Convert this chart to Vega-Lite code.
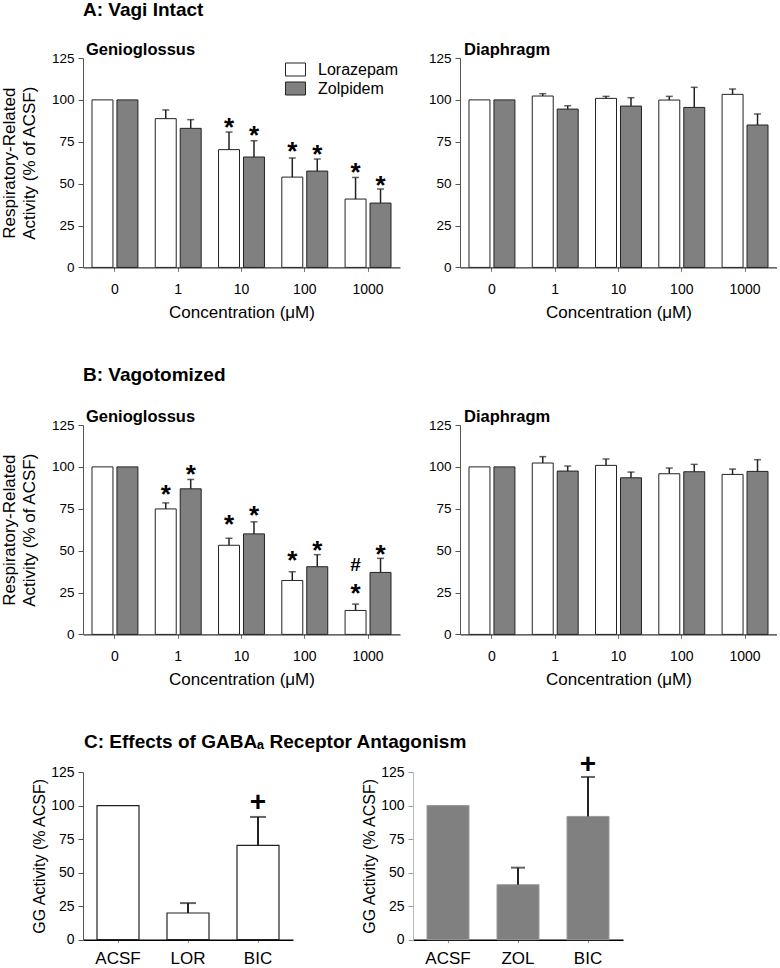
{
  "$schema": "https://vega.github.io/schema/vega-lite/v6.json",
  "padding": {"left": 0, "top": 0, "right": 0, "bottom": 0},
  "config": {
    "view": {"stroke": null},
    "font": "Liberation Sans",
    "axis": {"grid": false, "labelColor": "#000", "titleColor": "#000", "titleFontWeight": "normal", "labelFont": "Liberation Sans", "titleFont": "Liberation Sans"},
    "title": {"font": "Liberation Sans", "color": "#000"}
  },
  "resolve": {"scale": {"fill": "independent"}, "legend": {"fill": "independent"}},
  "datasets": {
    "bars": [
      {"panel":"A_GG","conc":"0","drug":"Lorazepam","mean":100,"err":null,"star":null,"hash":null},
      {"panel":"A_GG","conc":"0","drug":"Zolpidem","mean":100,"err":null,"star":null,"hash":null},
      {"panel":"A_GG","conc":"1","drug":"Lorazepam","mean":88.8,"err":94.0,"star":null,"hash":null},
      {"panel":"A_GG","conc":"1","drug":"Zolpidem","mean":83.0,"err":88.2,"star":null,"hash":null},
      {"panel":"A_GG","conc":"10","drug":"Lorazepam","mean":70.3,"err":80.8,"star":86.2,"hash":null},
      {"panel":"A_GG","conc":"10","drug":"Zolpidem","mean":65.9,"err":75.6,"star":81.6,"hash":null},
      {"panel":"A_GG","conc":"100","drug":"Lorazepam","mean":53.9,"err":65.3,"star":71.7,"hash":null},
      {"panel":"A_GG","conc":"100","drug":"Zolpidem","mean":57.5,"err":64.7,"star":70.3,"hash":null},
      {"panel":"A_GG","conc":"1000","drug":"Lorazepam","mean":40.8,"err":53.7,"star":59.3,"hash":null},
      {"panel":"A_GG","conc":"1000","drug":"Zolpidem","mean":38.4,"err":46.8,"star":51.4,"hash":null},
      {"panel":"A_DIA","conc":"0","drug":"Lorazepam","mean":100,"err":null,"star":null,"hash":null},
      {"panel":"A_DIA","conc":"0","drug":"Zolpidem","mean":100,"err":null,"star":null,"hash":null},
      {"panel":"A_DIA","conc":"1","drug":"Lorazepam","mean":102.3,"err":103.7,"star":null,"hash":null},
      {"panel":"A_DIA","conc":"1","drug":"Zolpidem","mean":94.5,"err":96.5,"star":null,"hash":null},
      {"panel":"A_DIA","conc":"10","drug":"Lorazepam","mean":100.9,"err":102.1,"star":null,"hash":null},
      {"panel":"A_DIA","conc":"10","drug":"Zolpidem","mean":96.3,"err":101.3,"star":null,"hash":null},
      {"panel":"A_DIA","conc":"100","drug":"Lorazepam","mean":99.9,"err":102.1,"star":null,"hash":null},
      {"panel":"A_DIA","conc":"100","drug":"Zolpidem","mean":95.5,"err":107.5,"star":null,"hash":null},
      {"panel":"A_DIA","conc":"1000","drug":"Lorazepam","mean":103.3,"err":106.5,"star":null,"hash":null},
      {"panel":"A_DIA","conc":"1000","drug":"Zolpidem","mean":85.0,"err":91.6,"star":null,"hash":null},
      {"panel":"B_GG","conc":"0","drug":"Lorazepam","mean":100,"err":null,"star":null,"hash":null},
      {"panel":"B_GG","conc":"0","drug":"Zolpidem","mean":100,"err":null,"star":null,"hash":null},
      {"panel":"B_GG","conc":"1","drug":"Lorazepam","mean":74.9,"err":78.5,"star":86.1,"hash":null},
      {"panel":"B_GG","conc":"1","drug":"Zolpidem","mean":86.9,"err":92.5,"star":98.1,"hash":null},
      {"panel":"B_GG","conc":"10","drug":"Lorazepam","mean":53.2,"err":57.4,"star":68.2,"hash":null},
      {"panel":"B_GG","conc":"10","drug":"Zolpidem","mean":60.0,"err":67.2,"star":73.6,"hash":null},
      {"panel":"B_GG","conc":"100","drug":"Lorazepam","mean":32.2,"err":37.4,"star":47.0,"hash":null},
      {"panel":"B_GG","conc":"100","drug":"Zolpidem","mean":40.4,"err":47.6,"star":53.0,"hash":null},
      {"panel":"B_GG","conc":"1000","drug":"Lorazepam","mean":14.3,"err":18.1,"star":27.0,"hash":42.0},
      {"panel":"B_GG","conc":"1000","drug":"Zolpidem","mean":37.0,"err":45.4,"star":50.6,"hash":null},
      {"panel":"B_DIA","conc":"0","drug":"Lorazepam","mean":100,"err":null,"star":null,"hash":null},
      {"panel":"B_DIA","conc":"0","drug":"Zolpidem","mean":100,"err":null,"star":null,"hash":null},
      {"panel":"B_DIA","conc":"1","drug":"Lorazepam","mean":102.3,"err":106.1,"star":null,"hash":null},
      {"panel":"B_DIA","conc":"1","drug":"Zolpidem","mean":97.5,"err":100.5,"star":null,"hash":null},
      {"panel":"B_DIA","conc":"10","drug":"Lorazepam","mean":100.9,"err":104.7,"star":null,"hash":null},
      {"panel":"B_DIA","conc":"10","drug":"Zolpidem","mean":93.5,"err":96.9,"star":null,"hash":null},
      {"panel":"B_DIA","conc":"100","drug":"Lorazepam","mean":95.9,"err":99.3,"star":null,"hash":null},
      {"panel":"B_DIA","conc":"100","drug":"Zolpidem","mean":97.1,"err":101.5,"star":null,"hash":null},
      {"panel":"B_DIA","conc":"1000","drug":"Lorazepam","mean":95.5,"err":98.7,"star":null,"hash":null},
      {"panel":"B_DIA","conc":"1000","drug":"Zolpidem","mean":97.3,"err":104.3,"star":null,"hash":null}
    ],
    "gaba": [
      {"side":"LOR","group":"ACSF","mean":100,"err":null,"plus":null},
      {"side":"LOR","group":"LOR","mean":19.9,"err":27.3,"plus":null},
      {"side":"LOR","group":"BIC","mean":70.3,"err":91.5,"plus":102.4},
      {"side":"ZOL","group":"ACSF","mean":100,"err":null,"plus":null},
      {"side":"ZOL","group":"ZOL","mean":41.0,"err":53.7,"plus":null},
      {"side":"ZOL","group":"BIC","mean":91.9,"err":121.3,"plus":131}
    ]
  },
  "spacing": 44,
  "vconcat": [
    {
      "title": {"text": "A: Vagi Intact", "anchor": "start", "frame": "group", "fontSize": 19, "fontWeight": "bold", "dx": 0, "offset": 22},
      "spacing": 28,
      "resolve": {"scale": {"fill": "independent"}, "legend": {"fill": "independent"}},
      "hconcat": [
        {
          "width": 317, "height": 209.4,
          "title": {"text": "Genioglossus", "anchor": "start", "frame": "group", "fontSize": 16.5, "fontWeight": "bold", "dx": 3, "offset": -7},
          "data": {"name": "bars"},
          "transform": [{"filter": "datum.panel === 'A_GG'"}],
          "encoding": {
            "x": {"field": "conc", "type": "nominal", "sort": ["0","1","10","100","1000"], "scale": {"paddingInner": 0.274, "paddingOuter": 0.142},
                  "axis": {"title": "Concentration (μM)", "labelAngle": 0, "labelFontSize": 14, "tickSize": 4, "tickColor": "#777", "labelPadding": 11, "titleFontSize": 17, "titlePadding": 8, "domainColor": "#000"}},
            "xOffset": {"field": "drug", "type": "nominal", "sort": ["Lorazepam","Zolpidem"], "scale": {"paddingInner": 0.16, "paddingOuter": 0}}
          },
          "layer": [
            {"mark": {"type": "bar", "stroke": "#222", "strokeWidth": 1},
             "encoding": {
               "y": {"field": "mean", "type": "quantitative", "scale": {"domain": [0,125], "nice": false},
                     "axis": {"values": [0,25,50,75,100,125], "labelFontSize": 13.5, "tickSize": 5, "labelPadding": 4, "domainColor": "#555", "tickColor": "#555", "title": ["Respiratory-Related", "Activity (% of ACSF)"], "titleFontSize": 17, "titleLineHeight": 19.5, "titlePadding": 13}},
               "fill": {"field": "drug", "type": "nominal", "scale": {"domain": ["Lorazepam","Zolpidem"], "range": ["#ffffff","#808080"]},
                        "legend": {"orient": "top-right", "offset": 1, "title": null, "symbolType": "M-1,-0.65H1V0.65H-1Z", "symbolSize": 400, "symbolStrokeColor": "#222", "symbolStrokeWidth": 1, "labelFontSize": 16, "labelOffset": 12, "rowPadding": 0, "padding": 0, "labelColor": "#000"}}
             }},
            {"transform": [{"filter": "datum.err != null"}], "mark": {"type": "rule", "color": "#222", "strokeWidth": 1.5},
             "encoding": {"y": {"field": "mean", "type": "quantitative", "scale": {"domain": [0,125], "nice": false}, "axis": {"values": [0,25,50,75,100,125], "labelFontSize": 13.5, "tickSize": 5, "labelPadding": 4, "domainColor": "#555", "tickColor": "#555", "title": ["Respiratory-Related", "Activity (% of ACSF)"], "titleFontSize": 17, "titleLineHeight": 19.5, "titlePadding": 13}}, "y2": {"field": "err"}}},
            {"transform": [{"filter": "datum.err != null"}], "mark": {"type": "tick", "color": "#222", "thickness": 1.5, "size": 7},
             "encoding": {"y": {"field": "err", "type": "quantitative", "scale": {"domain": [0,125], "nice": false}, "axis": {"values": [0,25,50,75,100,125], "labelFontSize": 13.5, "tickSize": 5, "labelPadding": 4, "domainColor": "#555", "tickColor": "#555", "title": ["Respiratory-Related", "Activity (% of ACSF)"], "titleFontSize": 17, "titleLineHeight": 19.5, "titlePadding": 13}}}},
            {"transform": [{"filter": "datum.star != null"}], "mark": {"type": "text", "text": "*", "fontSize": 26, "fontWeight": "bold", "baseline": "alphabetic", "dy": 13, "color": "#000"},
             "encoding": {"y": {"field": "star", "type": "quantitative", "scale": {"domain": [0,125], "nice": false}, "axis": {"values": [0,25,50,75,100,125], "labelFontSize": 13.5, "tickSize": 5, "labelPadding": 4, "domainColor": "#555", "tickColor": "#555", "title": ["Respiratory-Related", "Activity (% of ACSF)"], "titleFontSize": 17, "titleLineHeight": 19.5, "titlePadding": 13}}}}
          ]
        },
        {
          "width": 317, "height": 209.4,
          "title": {"text": "Diaphragm", "anchor": "start", "frame": "group", "fontSize": 16.5, "fontWeight": "bold", "dx": 4, "offset": -7},
          "data": {"name": "bars"},
          "transform": [{"filter": "datum.panel === 'A_DIA'"}],
          "encoding": {
            "x": {"field": "conc", "type": "nominal", "sort": ["0","1","10","100","1000"], "scale": {"paddingInner": 0.274, "paddingOuter": 0.142},
                  "axis": {"title": "Concentration (μM)", "labelAngle": 0, "labelFontSize": 14, "tickSize": 4, "tickColor": "#777", "labelPadding": 11, "titleFontSize": 17, "titlePadding": 8, "domainColor": "#000"}},
            "xOffset": {"field": "drug", "type": "nominal", "sort": ["Lorazepam","Zolpidem"], "scale": {"paddingInner": 0.16, "paddingOuter": 0}}
          },
          "layer": [
            {"mark": {"type": "bar", "stroke": "#222", "strokeWidth": 1},
             "encoding": {
               "y": {"field": "mean", "type": "quantitative", "scale": {"domain": [0,125], "nice": false},
                     "axis": {"values": [0,25,50,75,100,125], "labelFontSize": 13.5, "tickSize": 5, "labelPadding": 4, "domainColor": "#555", "tickColor": "#555", "title": null}},
               "fill": {"condition": {"test": "datum.drug === 'Lorazepam'", "value": "#ffffff"}, "value": "#808080"}
             }},
            {"transform": [{"filter": "datum.err != null"}], "mark": {"type": "rule", "color": "#222", "strokeWidth": 1.5},
             "encoding": {"y": {"field": "mean", "type": "quantitative", "scale": {"domain": [0,125], "nice": false}, "axis": {"values": [0,25,50,75,100,125], "labelFontSize": 13.5, "tickSize": 5, "labelPadding": 4, "domainColor": "#555", "tickColor": "#555", "title": null}}, "y2": {"field": "err"}}},
            {"transform": [{"filter": "datum.err != null"}], "mark": {"type": "tick", "color": "#222", "thickness": 1.5, "size": 7},
             "encoding": {"y": {"field": "err", "type": "quantitative", "scale": {"domain": [0,125], "nice": false}, "axis": {"values": [0,25,50,75,100,125], "labelFontSize": 13.5, "tickSize": 5, "labelPadding": 4, "domainColor": "#555", "tickColor": "#555", "title": null}}}}
          ]
        }
      ]
    },
    {
      "title": {"text": "B: Vagotomized", "anchor": "start", "frame": "group", "fontSize": 19, "fontWeight": "bold", "dx": 0, "offset": 24},
      "spacing": 28,
      "hconcat": [
        {
          "width": 317, "height": 209.4,
          "title": {"text": "Genioglossus", "anchor": "start", "frame": "group", "fontSize": 16.5, "fontWeight": "bold", "dx": 3, "offset": -7},
          "data": {"name": "bars"},
          "transform": [{"filter": "datum.panel === 'B_GG'"}],
          "encoding": {
            "x": {"field": "conc", "type": "nominal", "sort": ["0","1","10","100","1000"], "scale": {"paddingInner": 0.274, "paddingOuter": 0.142},
                  "axis": {"title": "Concentration (μM)", "labelAngle": 0, "labelFontSize": 14, "tickSize": 4, "tickColor": "#777", "labelPadding": 11, "titleFontSize": 17, "titlePadding": 8, "domainColor": "#000"}},
            "xOffset": {"field": "drug", "type": "nominal", "sort": ["Lorazepam","Zolpidem"], "scale": {"paddingInner": 0.16, "paddingOuter": 0}}
          },
          "layer": [
            {"mark": {"type": "bar", "stroke": "#222", "strokeWidth": 1},
             "encoding": {
               "y": {"field": "mean", "type": "quantitative", "scale": {"domain": [0,125], "nice": false},
                     "axis": {"values": [0,25,50,75,100,125], "labelFontSize": 13.5, "tickSize": 5, "labelPadding": 4, "domainColor": "#555", "tickColor": "#555", "title": ["Respiratory-Related", "Activity (% of ACSF)"], "titleFontSize": 17, "titleLineHeight": 19.5, "titlePadding": 13}},
               "fill": {"condition": {"test": "datum.drug === 'Lorazepam'", "value": "#ffffff"}, "value": "#808080"}
             }},
            {"transform": [{"filter": "datum.err != null"}], "mark": {"type": "rule", "color": "#222", "strokeWidth": 1.5},
             "encoding": {"y": {"field": "mean", "type": "quantitative", "scale": {"domain": [0,125], "nice": false}, "axis": {"values": [0,25,50,75,100,125], "labelFontSize": 13.5, "tickSize": 5, "labelPadding": 4, "domainColor": "#555", "tickColor": "#555", "title": ["Respiratory-Related", "Activity (% of ACSF)"], "titleFontSize": 17, "titleLineHeight": 19.5, "titlePadding": 13}}, "y2": {"field": "err"}}},
            {"transform": [{"filter": "datum.err != null"}], "mark": {"type": "tick", "color": "#222", "thickness": 1.5, "size": 7},
             "encoding": {"y": {"field": "err", "type": "quantitative", "scale": {"domain": [0,125], "nice": false}, "axis": {"values": [0,25,50,75,100,125], "labelFontSize": 13.5, "tickSize": 5, "labelPadding": 4, "domainColor": "#555", "tickColor": "#555", "title": ["Respiratory-Related", "Activity (% of ACSF)"], "titleFontSize": 17, "titleLineHeight": 19.5, "titlePadding": 13}}}},
            {"transform": [{"filter": "datum.star != null"}], "mark": {"type": "text", "text": "*", "fontSize": 26, "fontWeight": "bold", "baseline": "alphabetic", "dy": 13, "color": "#000"},
             "encoding": {"y": {"field": "star", "type": "quantitative", "scale": {"domain": [0,125], "nice": false}, "axis": {"values": [0,25,50,75,100,125], "labelFontSize": 13.5, "tickSize": 5, "labelPadding": 4, "domainColor": "#555", "tickColor": "#555", "title": ["Respiratory-Related", "Activity (% of ACSF)"], "titleFontSize": 17, "titleLineHeight": 19.5, "titlePadding": 13}}}},
            {"transform": [{"filter": "datum.hash != null"}], "mark": {"type": "text", "text": "#", "fontSize": 19, "fontWeight": "bold", "baseline": "alphabetic", "dy": 7, "color": "#000"},
             "encoding": {"y": {"field": "hash", "type": "quantitative", "scale": {"domain": [0,125], "nice": false}, "axis": {"values": [0,25,50,75,100,125], "labelFontSize": 13.5, "tickSize": 5, "labelPadding": 4, "domainColor": "#555", "tickColor": "#555", "title": ["Respiratory-Related", "Activity (% of ACSF)"], "titleFontSize": 17, "titleLineHeight": 19.5, "titlePadding": 13}}}}
          ]
        },
        {
          "width": 317, "height": 209.4,
          "title": {"text": "Diaphragm", "anchor": "start", "frame": "group", "fontSize": 16.5, "fontWeight": "bold", "dx": 4, "offset": -7},
          "data": {"name": "bars"},
          "transform": [{"filter": "datum.panel === 'B_DIA'"}],
          "encoding": {
            "x": {"field": "conc", "type": "nominal", "sort": ["0","1","10","100","1000"], "scale": {"paddingInner": 0.274, "paddingOuter": 0.142},
                  "axis": {"title": "Concentration (μM)", "labelAngle": 0, "labelFontSize": 14, "tickSize": 4, "tickColor": "#777", "labelPadding": 11, "titleFontSize": 17, "titlePadding": 8, "domainColor": "#000"}},
            "xOffset": {"field": "drug", "type": "nominal", "sort": ["Lorazepam","Zolpidem"], "scale": {"paddingInner": 0.16, "paddingOuter": 0}}
          },
          "layer": [
            {"mark": {"type": "bar", "stroke": "#222", "strokeWidth": 1},
             "encoding": {
               "y": {"field": "mean", "type": "quantitative", "scale": {"domain": [0,125], "nice": false},
                     "axis": {"values": [0,25,50,75,100,125], "labelFontSize": 13.5, "tickSize": 5, "labelPadding": 4, "domainColor": "#555", "tickColor": "#555", "title": null}},
               "fill": {"condition": {"test": "datum.drug === 'Lorazepam'", "value": "#ffffff"}, "value": "#808080"}
             }},
            {"transform": [{"filter": "datum.err != null"}], "mark": {"type": "rule", "color": "#222", "strokeWidth": 1.5},
             "encoding": {"y": {"field": "mean", "type": "quantitative", "scale": {"domain": [0,125], "nice": false}, "axis": {"values": [0,25,50,75,100,125], "labelFontSize": 13.5, "tickSize": 5, "labelPadding": 4, "domainColor": "#555", "tickColor": "#555", "title": null}}, "y2": {"field": "err"}}},
            {"transform": [{"filter": "datum.err != null"}], "mark": {"type": "tick", "color": "#222", "thickness": 1.5, "size": 7},
             "encoding": {"y": {"field": "err", "type": "quantitative", "scale": {"domain": [0,125], "nice": false}, "axis": {"values": [0,25,50,75,100,125], "labelFontSize": 13.5, "tickSize": 5, "labelPadding": 4, "domainColor": "#555", "tickColor": "#555", "title": null}}}}
          ]
        }
      ]
    },
    {
      "title": {"text": "C: Effects of GABAₐ Receptor Antagonism", "anchor": "start", "frame": "group", "fontSize": 19, "fontWeight": "bold", "dx": 1, "offset": -1},
      "spacing": 68,
      "hconcat": [
        {
          "width": 210, "height": 167.7,
          "data": {"name": "gaba"},
          "transform": [{"filter": "datum.side === 'LOR'"}],
          "encoding": {
            "x": {"field": "group", "type": "nominal", "sort": ["ACSF","LOR","BIC"], "scale": {"paddingInner": 0.4, "paddingOuter": 0.2},
                  "axis": {"title": null, "labelAngle": 0, "labelFontSize": 17, "tickSize": 3, "tickColor": "#999", "labelPadding": 8, "domainColor": "#000", "domainWidth": 1.5}}
          },
          "layer": [
            {"mark": {"type": "bar", "stroke": "#222", "strokeWidth": 1.2, "fill": "#ffffff"},
             "encoding": {
               "y": {"field": "mean", "type": "quantitative", "scale": {"domain": [0,125], "nice": false},
                     "axis": {"values": [0,25,50,75,100,125], "labelFontSize": 14, "tickSize": 5, "labelPadding": 4, "domainColor": "#555", "tickColor": "#555", "title": "GG Activity (% ACSF)", "titleFontSize": 16, "titlePadding": 3, "titleLimit": 400}}
             }},
            {"transform": [{"filter": "datum.err != null"}], "mark": {"type": "rule", "color": "#222", "strokeWidth": 2},
             "encoding": {"y": {"field": "mean", "type": "quantitative", "scale": {"domain": [0,125], "nice": false}, "axis": {"values": [0,25,50,75,100,125], "labelFontSize": 14, "tickSize": 5, "labelPadding": 4, "domainColor": "#555", "tickColor": "#555", "title": "GG Activity (% ACSF)", "titleFontSize": 16, "titlePadding": 3, "titleLimit": 400}}, "y2": {"field": "err"}}},
            {"transform": [{"filter": "datum.err != null"}], "mark": {"type": "tick", "color": "#222", "thickness": 2, "size": 16},
             "encoding": {"y": {"field": "err", "type": "quantitative", "scale": {"domain": [0,125], "nice": false}, "axis": {"values": [0,25,50,75,100,125], "labelFontSize": 14, "tickSize": 5, "labelPadding": 4, "domainColor": "#555", "tickColor": "#555", "title": "GG Activity (% ACSF)", "titleFontSize": 16, "titlePadding": 3, "titleLimit": 400}}}},
            {"transform": [{"filter": "datum.plus != null"}], "mark": {"type": "text", "text": "+", "fontSize": 28, "fontWeight": "bold", "baseline": "alphabetic", "dy": 9, "color": "#000"},
             "encoding": {"y": {"field": "plus", "type": "quantitative", "scale": {"domain": [0,125], "nice": false}, "axis": {"values": [0,25,50,75,100,125], "labelFontSize": 14, "tickSize": 5, "labelPadding": 4, "domainColor": "#555", "tickColor": "#555", "title": "GG Activity (% ACSF)", "titleFontSize": 16, "titlePadding": 3, "titleLimit": 400}}}}
          ]
        },
        {
          "width": 210, "height": 167.7,
          "data": {"name": "gaba"},
          "transform": [{"filter": "datum.side === 'ZOL'"}],
          "encoding": {
            "x": {"field": "group", "type": "nominal", "sort": ["ACSF","ZOL","BIC"], "scale": {"paddingInner": 0.4, "paddingOuter": 0.2},
                  "axis": {"title": null, "labelAngle": 0, "labelFontSize": 17, "tickSize": 3, "tickColor": "#999", "labelPadding": 8, "domainColor": "#000", "domainWidth": 1.5}}
          },
          "layer": [
            {"mark": {"type": "bar", "stroke": "#999", "strokeWidth": 1, "fill": "#808080"},
             "encoding": {
               "y": {"field": "mean", "type": "quantitative", "scale": {"domain": [0,125], "nice": false},
                     "axis": {"values": [0,25,50,75,100,125], "labelFontSize": 14, "tickSize": 5, "labelPadding": 4, "domainColor": "#bbb", "tickColor": "#999", "title": "GG Activity (% ACSF)", "titleFontSize": 16, "titlePadding": 3, "titleLimit": 400}}
             }},
            {"transform": [{"filter": "datum.err != null"}], "mark": {"type": "rule", "color": "#222", "strokeWidth": 2},
             "encoding": {"y": {"field": "mean", "type": "quantitative", "scale": {"domain": [0,125], "nice": false}, "axis": {"values": [0,25,50,75,100,125], "labelFontSize": 14, "tickSize": 5, "labelPadding": 4, "domainColor": "#bbb", "tickColor": "#999", "title": "GG Activity (% ACSF)", "titleFontSize": 16, "titlePadding": 3, "titleLimit": 400}}, "y2": {"field": "err"}}},
            {"transform": [{"filter": "datum.err != null"}], "mark": {"type": "tick", "color": "#222", "thickness": 2, "size": 14},
             "encoding": {"y": {"field": "err", "type": "quantitative", "scale": {"domain": [0,125], "nice": false}, "axis": {"values": [0,25,50,75,100,125], "labelFontSize": 14, "tickSize": 5, "labelPadding": 4, "domainColor": "#bbb", "tickColor": "#999", "title": "GG Activity (% ACSF)", "titleFontSize": 16, "titlePadding": 3, "titleLimit": 400}}}},
            {"transform": [{"filter": "datum.plus != null"}], "mark": {"type": "text", "text": "+", "fontSize": 28, "fontWeight": "bold", "baseline": "alphabetic", "dy": 9, "color": "#000"},
             "encoding": {"y": {"field": "plus", "type": "quantitative", "scale": {"domain": [0,125], "nice": false}, "axis": {"values": [0,25,50,75,100,125], "labelFontSize": 14, "tickSize": 5, "labelPadding": 4, "domainColor": "#bbb", "tickColor": "#999", "title": "GG Activity (% ACSF)", "titleFontSize": 16, "titlePadding": 3, "titleLimit": 400}}}}
          ]
        }
      ]
    }
  ]
}
